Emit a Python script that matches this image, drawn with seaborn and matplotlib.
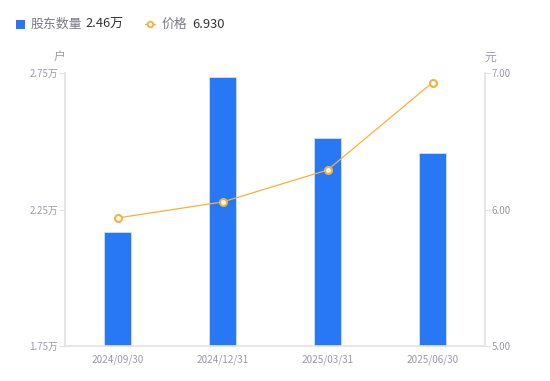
import matplotlib
matplotlib.use("Agg")
import matplotlib.pyplot as plt
import seaborn as sns
import pandas as pd
from matplotlib.lines import Line2D
from matplotlib.patches import Rectangle

dates = ["2024/09/30", "2024/12/31", "2025/03/31", "2025/06/30"]
holders = [2.168, 2.735, 2.512, 2.457]  # 万户
prices = [5.938, 6.055, 6.289, 6.930]
left_ticks = [1.75, 2.25, 2.75]
right_ticks = [5.00, 6.00, 7.00]

sns.set_theme(style="white")
plt.rcParams['font.family'] = ['Noto Sans CJK SC', 'DejaVu Sans']

df = pd.DataFrame({"date": dates, "holders": holders, "price": prices})

fig = plt.figure(figsize=(5.5, 3.81), dpi=100)
ax = fig.add_axes([65/550, 35/381, 420/550, 273/381])
blue = "#2878f5"
orange = "#f8b03c"
tick_color = "#9a9aa8"
axis_color = "#e3e3e6"

sns.barplot(data=df, x="date", y="holders", color=blue, width=0.25, ax=ax,
            saturation=1, edgecolor="#cfe0fb", linewidth=0.6)
ax.set_ylim(1.75, 2.75)
ax.set_xlim(-0.5, 3.5)
ax.set_yticks(left_ticks)
ax.set_yticklabels([f"{v:.2f}万" for v in left_ticks])
ax.set_xlabel("")
ax.set_ylabel("")

ax2 = ax.twinx()
sns.lineplot(x=list(range(len(dates))), y=prices, ax=ax2, color=orange, lw=0.9,
             marker="o", markersize=5, markerfacecolor="white",
             markeredgecolor=orange, markeredgewidth=1.5)
ax2.set_ylim(5.0, 7.0)
ax2.set_yticks(right_ticks)
ax2.set_yticklabels([f"{v:.2f}" for v in right_ticks])
ax2.set_xlim(-0.5, 3.5)

for a in (ax, ax2):
    for s in a.spines.values():
        s.set_visible(False)
ax.spines['left'].set_visible(True)
ax.spines['left'].set_color(axis_color)
ax.spines['bottom'].set_visible(True)
ax.spines['bottom'].set_color(axis_color)
ax2.spines['right'].set_visible(True)
ax2.spines['right'].set_color(axis_color)
ax.grid(False)
ax2.grid(False)

ax.tick_params(axis='y', colors=tick_color, labelsize=7, length=4, width=0.8,
               color=axis_color, pad=1, labelleft=True, left=True)
ax.tick_params(axis='x', colors=tick_color, labelsize=7.2, length=0, pad=6)
ax2.tick_params(axis='y', colors=tick_color, labelsize=7, length=4, width=0.8,
                color=axis_color, pad=1, right=True)

fig.text(60/550, 1 - 57/381, "户", color=tick_color, fontsize=8.5, ha="center", va="center")
fig.text(490/550, 1 - 57/381, "元", color=tick_color, fontsize=8.5, ha="center", va="center")

# legend
ly = 1 - 24/381
fig.add_artist(Rectangle((16/550, ly - 4.5/381), 9/550, 9/381, transform=fig.transFigure,
                         color=blue, lw=0))
fig.text(31/550, ly, "股东数量", color="#7a7a85", fontsize=9.3, va="center")
fig.text(85/550, ly, f"{holders[-1]:.2f}万", color="#333333", fontsize=9.3, va="center")
fig.add_artist(Line2D([145/550, 155/550], [ly, ly], transform=fig.transFigure,
                      color=orange, lw=1))
fig.add_artist(Line2D([150/550], [ly], transform=fig.transFigure, marker="o",
                      markersize=4, markerfacecolor="white", markeredgecolor=orange,
                      markeredgewidth=1.3))
fig.text(161/550, ly, "价格", color="#7a7a85", fontsize=9.3, va="center")
fig.text(192/550, ly, f"{prices[-1]:.3f}", color="#333333", fontsize=9.3, va="center")

fig.savefig("out.png", dpi=100)
